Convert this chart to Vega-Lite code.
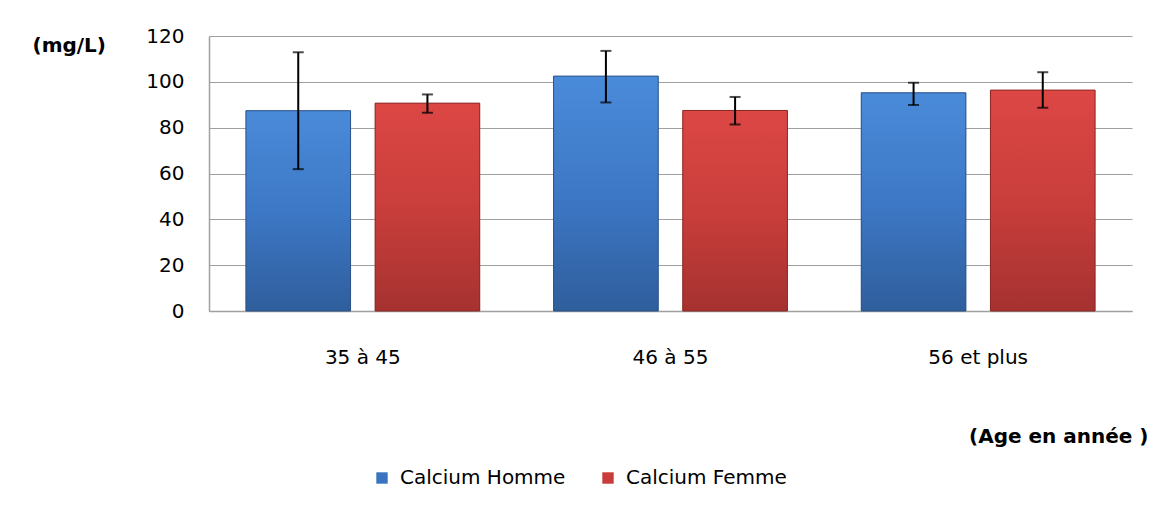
{
  "$schema": "https://vega.github.io/schema/vega-lite/v6.json",
  "width": 923,
  "height": 275,
  "autosize": {"type": "none"},
  "padding": {"left": 209, "top": 36, "right": 25, "bottom": 199},
  "background": "white",
  "config": {"font": "DejaVu Sans", "view": {"stroke": null}},
  "data": {"values": [
    {"age": "35 à 45", "serie": "Calcium Homme", "value": 87.4, "lo": 61.9, "hi": 112.9},
    {"age": "35 à 45", "serie": "Calcium Femme", "value": 90.7, "lo": 86.5, "hi": 94.5},
    {"age": "46 à 55", "serie": "Calcium Homme", "value": 102.5, "lo": 91.0, "hi": 113.5},
    {"age": "46 à 55", "serie": "Calcium Femme", "value": 87.5, "lo": 81.4, "hi": 93.4},
    {"age": "56 et plus", "serie": "Calcium Homme", "value": 95.2, "lo": 89.9, "hi": 99.6},
    {"age": "56 et plus", "serie": "Calcium Femme", "value": 96.4, "lo": 88.7, "hi": 104.2}
  ]},
  "encoding": {
    "x": {
      "field": "age", "type": "nominal", "sort": null,
      "scale": {"paddingInner": 0.24, "paddingOuter": 0.12},
      "axis": {
        "title": "(Age en année )", "labelAngle": 0, "labelFontSize": 20, "labelColor": "#000",
        "labelPadding": 36, "ticks": false, "domainColor": "#a0a0a0", "domainWidth": 1.5,
        "titleFontSize": 20, "titleFontWeight": "bold", "titleX": 939, "titleY": 125,
        "titleAlign": "right", "titleBaseline": "middle", "titleColor": "#000"
      }
    },
    "xOffset": {"field": "serie", "type": "nominal", "scale": {"domain": ["Calcium Homme", "Calcium Femme"], "paddingInner": 0.19, "paddingOuter": 0}}
  },
  "layer": [
    {
      "mark": {"type": "bar"},
      "encoding": {
        "y": {
          "field": "value", "type": "quantitative", "title": "(mg/L)",
          "scale": {"domain": [0, 120]},
          "axis": {
            "values": [0, 20, 40, 60, 80, 100, 120], "labelFontSize": 20, "labelColor": "#000",
            "labelPadding": 25, "ticks": false, "domainColor": "#a0a0a0", "domainWidth": 1.5,
            "gridColor": "#a0a0a0", "gridWidth": 1.2,
            "titleAngle": 0, "titleX": -177, "titleY": 9, "titleAlign": "left", "titleBaseline": "middle",
            "titleFontSize": 20, "titleFontWeight": "bold", "titleColor": "#000"
          }
        },
        "color": {
          "field": "serie", "type": "nominal",
          "scale": {"domain": ["Calcium Homme", "Calcium Femme"], "range": ["#3a74c0", "#c93c3a"]},
          "legend": {
            "title": null, "orient": "none", "legendX": 163, "legendY": 432, "direction": "horizontal",
            "symbolType": "square", "symbolSize": 130, "symbolStrokeWidth": 0, "labelFontSize": 20,
            "labelColor": "#000", "columnPadding": 32, "labelOffset": 8, "labelLimit": 400
          }
        }
      }
    },
    {
      "transform": [{"filter": "datum.serie === 'Calcium Homme'"}],
      "mark": {"type": "bar", "stroke": "#2a5288", "strokeWidth": 1,
        "color": {"gradient": "linear", "x1": 0, "y1": 0, "x2": 0, "y2": 1,
          "stops": [{"offset": 0, "color": "#4a8bd9"}, {"offset": 0.5, "color": "#3d78c6"}, {"offset": 1, "color": "#2f5e9c"}]}},
      "encoding": {"y": {"field": "value", "type": "quantitative", "title": "(mg/L)"}}
    },
    {
      "transform": [{"filter": "datum.serie === 'Calcium Femme'"}],
      "mark": {"type": "bar", "stroke": "#8a2826", "strokeWidth": 1,
        "color": {"gradient": "linear", "x1": 0, "y1": 0, "x2": 0, "y2": 1,
          "stops": [{"offset": 0, "color": "#dc4744"}, {"offset": 0.5, "color": "#c93e3b"}, {"offset": 1, "color": "#a53230"}]}},
      "encoding": {"y": {"field": "value", "type": "quantitative", "title": "(mg/L)"}}
    },
    {
      "mark": {"type": "rule", "color": "#000", "strokeWidth": 2},
      "encoding": {"y": {"field": "lo", "type": "quantitative", "title": "(mg/L)"}, "y2": {"field": "hi"}}
    },
    {
      "mark": {"type": "tick", "color": "#000", "thickness": 2, "size": 11},
      "encoding": {"y": {"field": "hi", "type": "quantitative", "title": "(mg/L)"}}
    },
    {
      "mark": {"type": "tick", "color": "#000", "thickness": 2, "size": 11},
      "encoding": {"y": {"field": "lo", "type": "quantitative", "title": "(mg/L)"}}
    }
  ]
}
